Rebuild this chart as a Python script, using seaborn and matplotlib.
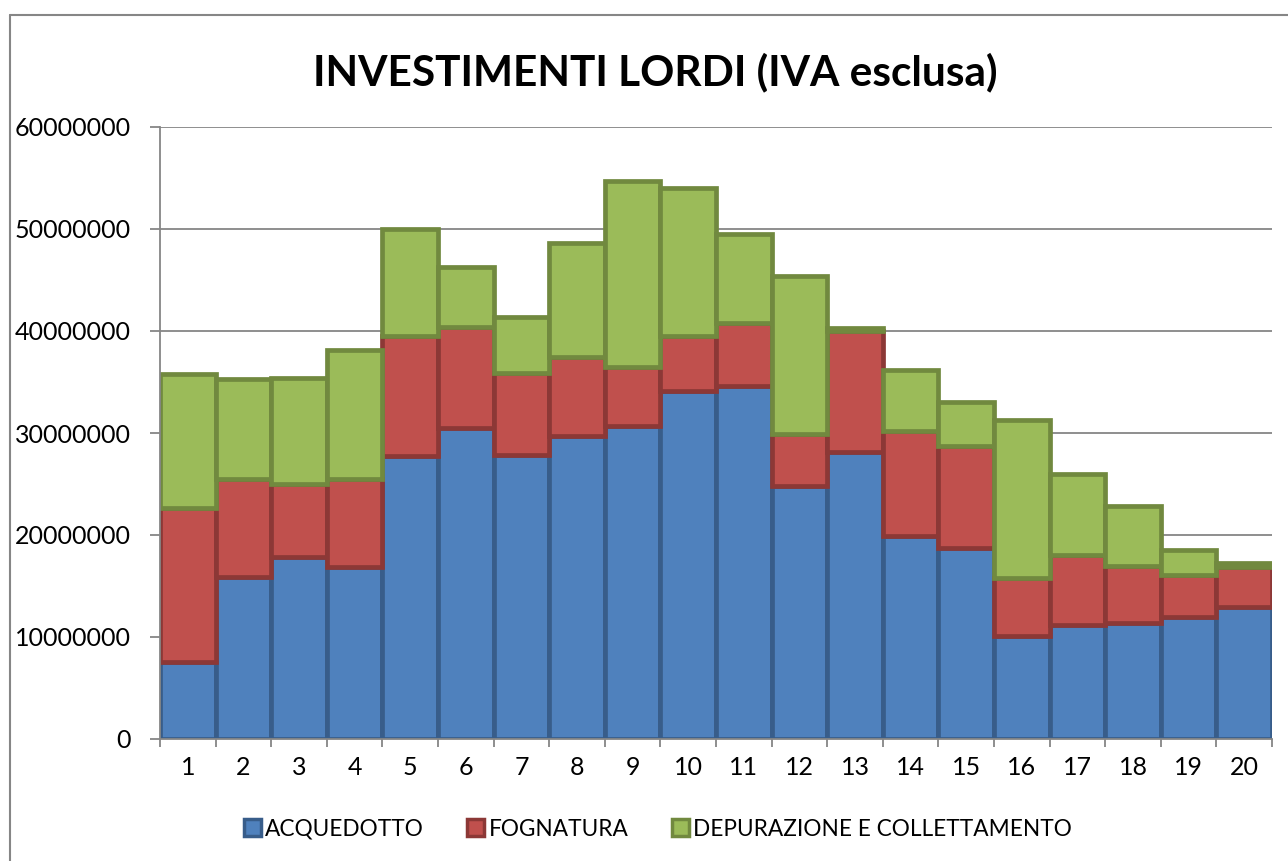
import matplotlib
matplotlib.use("Agg")
import matplotlib.pyplot as plt
import seaborn as sns
import pandas as pd
import numpy as np
from matplotlib.patches import Patch
from matplotlib.lines import Line2D

categories = [str(i) for i in range(1, 21)]
acquedotto = [7.55, 15.85, 17.85, 16.9, 27.7, 30.5, 27.85, 29.7, 30.7, 34.1,
              34.6, 24.8, 28.1, 19.9, 18.7, 10.05, 11.2, 11.35, 11.95, 12.9]
fognatura = [15.05, 9.65, 7.15, 8.6, 11.8, 9.9, 8.05, 7.8, 5.8, 5.4,
             6.15, 5.1, 11.9, 10.3, 10.0, 5.7, 6.8, 5.65, 4.15, 4.0]
depurazione = [13.2, 9.8, 10.4, 12.6, 10.5, 5.9, 5.5, 11.1, 18.2, 14.5,
               8.75, 15.5, 0.3, 6.0, 4.35, 15.5, 8.0, 5.8, 2.4, 0.4]
series_names = ["ACQUEDOTTO", "FOGNATURA", "DEPURAZIONE E COLLETTAMENTO"]
yticks = [0, 10000000, 20000000, 30000000, 40000000, 50000000, 60000000]
title = "INVESTIMENTI LORDI (IVA esclusa)"

fills = ["#4f81bd", "#c0504d", "#9bbb59"]
edges = ["#385d8a", "#8c3836", "#71893f"]

sns.set_style("white")
plt.rcParams["font.family"] = ["Lato", "DejaVu Sans"]
plt.rcParams["text.color"] = "black"
plt.rcParams["xtick.color"] = "black"
plt.rcParams["ytick.color"] = "black"

df = pd.DataFrame({
    "cat": categories,
    "a": np.array(acquedotto) * 1e6,
    "f": np.array(fognatura) * 1e6,
    "d": np.array(depurazione) * 1e6,
})
bottoms = [np.zeros(len(df)), df["a"].values, (df["a"] + df["f"]).values]

fig = plt.figure(figsize=(12.88, 8.61), dpi=100)
W, H = 1288, 861
ax = fig.add_axes([160 / W, 1 - 739 / H, (1272 - 160) / W, (739 - 127) / H])

for col, b, fc, ec in zip(["a", "f", "d"], bottoms, fills, edges):
    sns.barplot(data=df, x="cat", y=col, order=categories, bottom=b,
                color=fc, saturation=1, width=1.0, edgecolor=ec,
                linewidth=3.4, ax=ax, zorder=3, errorbar=None)

ax.set_xlim(-0.5, 19.5)
ax.set_ylim(0, 60000000)
ax.set_yticks(yticks)
ax.set_yticklabels([str(v) for v in yticks], fontsize=18, color="black")
ax.set_xticks(range(20))
ax.set_xticklabels(categories, fontsize=18, color="black")
ax.set_xlabel("")
ax.set_ylabel("")
ax.yaxis.grid(True, color="#868686", linewidth=1.3, zorder=0)
ax.set_axisbelow(True)
for s in ["top", "right"]:
    ax.spines[s].set_visible(False)
for s in ["left", "bottom"]:
    ax.spines[s].set_color("#868686")
    ax.spines[s].set_linewidth(1.3)
    ax.spines[s].set_zorder(5)
ax.set_xticks(np.arange(-0.5, 20, 1), minor=True)
ax.tick_params(axis="x", which="major", length=0, pad=12)
ax.tick_params(axis="x", which="minor", length=6, color="#868686", width=1.3, direction="out")
ax.tick_params(axis="y", length=7, color="#868686", width=1.3, direction="out", pad=14)
ax.tick_params(left=True, bottom=True)
ax.tick_params(axis="x", which="minor", bottom=True)

fig.text(655 / W, 1 - 72 / H, title, ha="center", va="center",
         fontsize=30.5, fontweight="bold", color="black")

handles = [Patch(facecolor=fc, edgecolor=ec, linewidth=2.5, label=n)
           for n, fc, ec in zip(series_names, fills, edges)]
leg = fig.legend(handles=handles, loc="center", bbox_to_anchor=(658 / W, 1 - 829 / H),
                 ncol=3, frameon=False, fontsize=16.3, handlelength=0.75, handleheight=0.75,
                 handletextpad=0.2, columnspacing=1.9)
for t in leg.get_texts():
    t.set_color("black")

fig.add_artist(Line2D([10 / W, 10 / W], [0, 1 - 15 / H], color="#868686", linewidth=1.5))
fig.add_artist(Line2D([10 / W, 1], [1 - 15 / H, 1 - 15 / H], color="#868686", linewidth=1.5))

fig.savefig("out.png", dpi=100, facecolor="white")
